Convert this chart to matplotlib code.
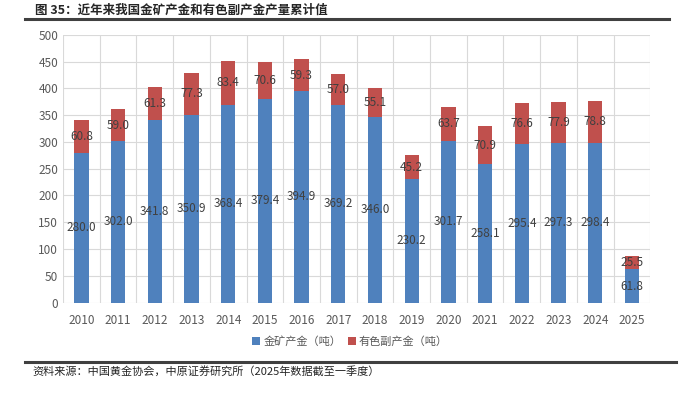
import matplotlib.pyplot as plt
import numpy as np

plt.rcParams['font.family'] = ['Noto Sans CJK SC', 'DejaVu Sans']

years = ['2010', '2011', '2012', '2013', '2014', '2015', '2016', '2017',
         '2018', '2019', '2020', '2021', '2022', '2023', '2024', '2025']
mine_gold = [280.0, 302.0, 341.8, 350.9, 368.4, 379.4, 394.9, 369.2,
             346.0, 230.2, 301.7, 258.1, 295.4, 297.3, 298.4, 61.8]
by_gold = [60.8, 59.0, 61.3, 77.3, 83.4, 70.6, 59.3, 57.0,
           55.1, 45.2, 63.7, 70.9, 76.6, 77.9, 78.8, 25.5]

blue = '#4F81BD'
red = '#C0504D'
grid_c = '#D9D9D9'
txt_c = '#404040'

fig = plt.figure(figsize=(7, 3.96), dpi=100)
ax = fig.add_axes([0.09, 0.236, 0.839, 0.676])

x = np.arange(len(years))
w = 0.39
b1 = ax.bar(x, mine_gold, w, color=blue, label='金矿产金（吨）', zorder=3)
b2 = ax.bar(x, by_gold, w, bottom=mine_gold, color=red, label='有色副产金（吨）', zorder=3)

for i in range(len(years)):
    ax.text(x[i], mine_gold[i] / 2, f'{mine_gold[i]:.1f}', ha='center', va='center',
            fontsize=8.5, color=txt_c, zorder=4)
    ax.text(x[i], mine_gold[i] + by_gold[i] / 2, f'{by_gold[i]:.1f}', ha='center',
            va='center', fontsize=8.5, color=txt_c, zorder=4)

ax.set_xlim(-0.5, len(years) - 0.5)
ax.set_ylim(0, 500)
ax.set_yticks(range(0, 501, 50))
ax.set_xticks(x)
ax.set_xticklabels(years)
ax.set_xticks(np.arange(-0.5, len(years), 1), minor=True)
ax.grid(axis='y', color=grid_c, linewidth=0.8, zorder=0)
ax.grid(axis='x', which='minor', color=grid_c, linewidth=0.8, zorder=0)
ax.tick_params(axis='both', which='both', length=0, labelsize=8.5, colors='#595959')
ax.tick_params(axis='x', pad=8)
for s in ax.spines.values():
    s.set_visible(False)

fig.legend(handles=[b1, b2], loc='center', bbox_to_anchor=(0.5, 0.137), ncol=2,
           frameon=False, fontsize=8, handlelength=0.7, handleheight=0.7,
           handletextpad=0.3, columnspacing=0.6, labelcolor='#595959')

fig.text(0.05, 0.974, '图 35：近年来我国金矿产金和有色副产金产量累计值', fontsize=9,
         fontweight='bold', color='#262626', va='center')
fig.add_artist(plt.Line2D([0.036, 0.955], [0.951, 0.951], color='#404040', linewidth=2.2))
fig.add_artist(plt.Line2D([0.036, 0.965], [0.086, 0.086], color='#404040', linewidth=2.2))
fig.text(0.047, 0.061, '资料来源：中国黄金协会，中原证券研究所（2025年数据截至一季度）',
         fontsize=8, color='#262626', va='center')

fig.savefig('out.png', dpi=100)
